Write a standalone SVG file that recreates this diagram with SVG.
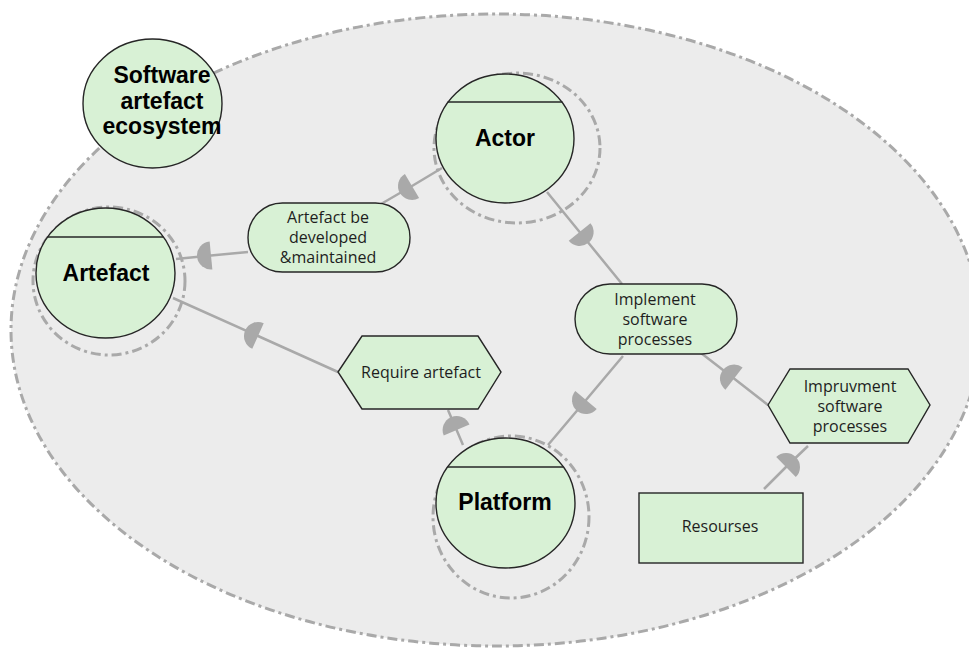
<svg xmlns="http://www.w3.org/2000/svg" width="969" height="648" viewBox="0 0 969 648">
<defs>
<style>
.bg{fill:#ececec;stroke:#a9a9a9;stroke-width:3;stroke-dasharray:10 4 3 4}
.ring{fill:none;stroke:#a9a9a9;stroke-width:3;stroke-dasharray:10 4 3 4}
.node{fill:#d8f1d5;stroke:#262626;stroke-width:1.4}
.sep{stroke:#262626;stroke-width:1.4}
.conn{fill:none;stroke:#a9a9a9;stroke-width:2.5;marker-mid:url(#dome)}
.bold{font-family:"Liberation Sans",Arial,sans-serif;font-weight:bold;font-size:23px;fill:#000;text-anchor:middle}
.lbl{font-family:"Open Sans","Noto Sans",sans-serif;font-size:16px;fill:#1e1e1e;text-anchor:middle}
</style>
<marker id="dome" viewBox="-16 -16 32 32" markerWidth="32" markerHeight="32" refX="0" refY="0" orient="auto" markerUnits="userSpaceOnUse">
<path d="M0,-14 A14,14 0 0 1 0,14 Z" fill="#a9a9a9"/>
</marker>
</defs>
<rect width="969" height="648" fill="#fff"/>
<ellipse id="ecosystem-boundary" class="bg" cx="496" cy="330" rx="485" ry="316"/>

<g id="connectors">
<path class="conn" d="M442,168 L412,186 L381,204"/>
<path class="conn" d="M248,252 L211,255.5 L176,259"/>
<path class="conn" d="M338,372 L258,336 L173,298"/>
<path class="conn" d="M463,445 L456.6,430 L448,410"/>
<path class="conn" d="M547,192 L579.6,232 L622,284"/>
<path class="conn" d="M623,356 L586,400 L548,445"/>
<path class="conn" d="M768,405 L734,378.6 L701,353"/>
<path class="conn" d="M764,489 L786,467 L808,446"/>
</g>

<g id="software-artefact-ecosystem">
<ellipse class="node" cx="152.5" cy="103.5" rx="69.5" ry="64.5"/>
<text class="bold"><tspan x="162" y="83">Software</tspan><tspan x="162" y="109">artefact</tspan><tspan x="162" y="134">ecosystem</tspan></text>
</g>

<g id="artefact">
<ellipse class="ring" cx="109" cy="281" rx="76" ry="74"/>
<ellipse class="node" cx="105.5" cy="273" rx="69.5" ry="65"/>
<line class="sep" x1="47.6" y1="237" x2="163.4" y2="237"/>
<text class="bold" x="106" y="281">Artefact</text>
</g>

<g id="actor">
<ellipse class="ring" cx="517" cy="148" rx="83" ry="75"/>
<ellipse class="node" cx="505" cy="138.5" rx="69" ry="64.5"/>
<line class="sep" x1="447.5" y1="102" x2="562.5" y2="102"/>
<text class="bold" x="505" y="146">Actor</text>
</g>

<g id="platform">
<ellipse class="ring" cx="511" cy="517" rx="78" ry="81"/>
<ellipse class="node" cx="505.5" cy="503" rx="69.5" ry="65"/>
<line class="sep" x1="447.6" y1="467" x2="563.4" y2="467"/>
<text class="bold" x="505" y="510">Platform</text>
</g>

<g id="artefact-be-developed">
<rect class="node" x="248" y="203" width="162" height="69" rx="34.5" ry="34.5"/>
<text class="lbl"><tspan x="328" y="223">Artefact be</tspan><tspan x="328" y="243">developed</tspan><tspan x="328" y="263">&amp;maintained</tspan></text>
</g>

<g id="implement-software-processes">
<rect class="node" x="575" y="284" width="162" height="70" rx="35" ry="35"/>
<text class="lbl"><tspan x="655" y="305">Implement</tspan><tspan x="655" y="325">software</tspan><tspan x="655" y="345">processes</tspan></text>
</g>

<g id="require-artefact">
<polygon class="node" points="338,372 362,336 478,336 501,372 478,409 362,409"/>
<text class="lbl" x="421" y="378">Require artefact</text>
</g>

<g id="impruvment-software-processes">
<polygon class="node" points="768,405 790,369 908,369 930,405 908,443 790,443"/>
<text class="lbl"><tspan x="850" y="392">Impruvment</tspan><tspan x="850" y="412">software</tspan><tspan x="850" y="432">processes</tspan></text>
</g>

<g id="resourses">
<rect class="node" x="639" y="493" width="164" height="70"/>
<text class="lbl" x="720" y="532">Resourses</text>
</g>
</svg>
